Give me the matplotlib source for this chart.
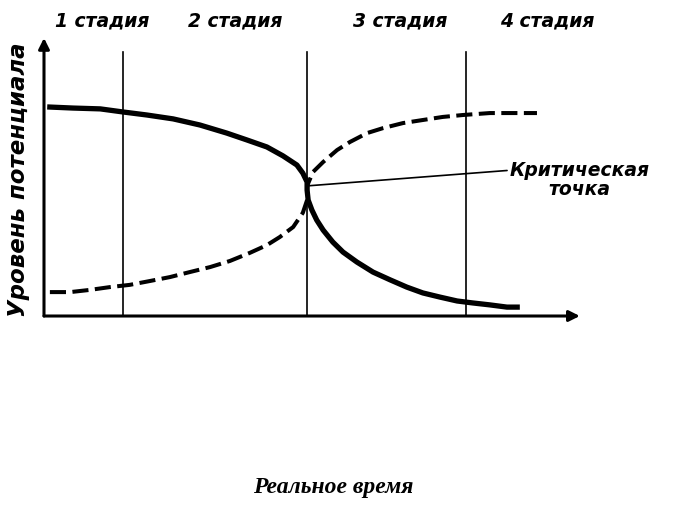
import matplotlib
matplotlib.use('Agg')
import matplotlib.pyplot as plt

# Stages along the time axis (boundaries between stages)
stage_names = ['1 стадия', '2 стадия', '3 стадия', '4 стадия']
stage_bounds = [1.47, 4.91, 7.87]
stage_label_x = [1.08, 3.56, 6.64, 9.40]

# Falling potential (solid curve)
solid_t = [0.06, 0.54, 1.05, 1.47, 1.92, 2.41, 2.91, 3.41, 3.79, 4.16,
           4.46, 4.72, 4.83, 4.91, 4.91, 4.93, 5.00, 5.09, 5.21, 5.39,
           5.58, 5.84, 6.14, 6.46, 6.77, 7.07, 7.39, 7.71, 8.00, 8.32,
           8.64, 8.88]
solid_v = [7.52, 7.48, 7.45, 7.34, 7.23, 7.09, 6.87, 6.58, 6.33, 6.08,
           5.76, 5.43, 5.14, 4.82, 4.53, 4.17, 3.81, 3.45, 3.09, 2.66,
           2.30, 1.94, 1.58, 1.30, 1.04, 0.83, 0.68, 0.54, 0.47, 0.40,
           0.32, 0.32]

# Rising potential (dashed curve)
dash_t = [0.11, 0.49, 0.86, 1.23, 1.60, 1.98, 2.35, 2.72, 3.10, 3.47,
          3.84, 4.16, 4.40, 4.65, 4.83, 4.91, 4.91, 5.02, 5.21, 5.47,
          5.71, 6.03, 6.33, 6.70, 7.07, 7.44, 7.82, 8.32, 9.20]
dash_v = [0.86, 0.86, 0.94, 1.04, 1.12, 1.26, 1.40, 1.58, 1.76, 1.98,
          2.27, 2.55, 2.84, 3.20, 3.71, 4.17, 4.68, 5.18, 5.54, 5.97,
          6.26, 6.58, 6.76, 6.94, 7.05, 7.16, 7.23, 7.30, 7.30]

crit_t, crit_v = 4.91, 4.68

fig = plt.figure(figsize=(6.8, 5.12), dpi=100)
ax = fig.add_axes([0.0647, 0.3828, 0.788, 0.543])
ax.set_xlim(0, 10)
ax.set_ylim(0, 10)
ax.axis('off')

# axes with arrows
arrow = dict(arrowstyle='-|>', lw=2.2, color='black', mutation_scale=16,
             shrinkA=0, shrinkB=0)
ax.annotate('', xy=(0, 10), xytext=(0, 0), arrowprops=arrow,
            annotation_clip=False)
ax.annotate('', xy=(10, 0), xytext=(0, 0), arrowprops=arrow,
            annotation_clip=False)

# stage boundaries
for b in stage_bounds:
    ax.plot([b, b], [0, 9.5], color='black', lw=1.2, clip_on=False)

for name, x in zip(stage_names, stage_label_x):
    ax.text(x, 10.6, name, ha='center', va='center', fontsize=13.5,
            fontweight='bold', fontstyle='italic', clip_on=False)

ax.plot(solid_t, solid_v, color='black', lw=3.8, solid_capstyle='butt',
        solid_joinstyle='round', clip_on=False)
ax.plot(dash_t, dash_v, color='black', lw=2.9, dashes=(4, 1.6),
        clip_on=False)

# critical point leader
ax.annotate('Критическая\nточка', xy=(crit_t, crit_v), xytext=(10.0, 4.9),
            ha='center', va='center', fontsize=13.5, fontweight='bold',
            fontstyle='italic', linespacing=1.0,
            arrowprops=dict(arrowstyle='-', lw=1.2, color='black',
                            shrinkA=0, shrinkB=0,
                            relpos=(0.0, 0.75)),
            annotation_clip=False)

fig.text(0.027, 0.648, 'Уровень потенциала', rotation=90, ha='center',
         va='center', fontsize=16.5, fontweight='bold', fontstyle='italic')

fig.text(0.49, 0.047, 'Реальное время', ha='center', va='center',
         fontsize=17, fontweight='bold', fontstyle='italic',
         family='Liberation Serif')

fig.savefig('out.png', dpi=100)
